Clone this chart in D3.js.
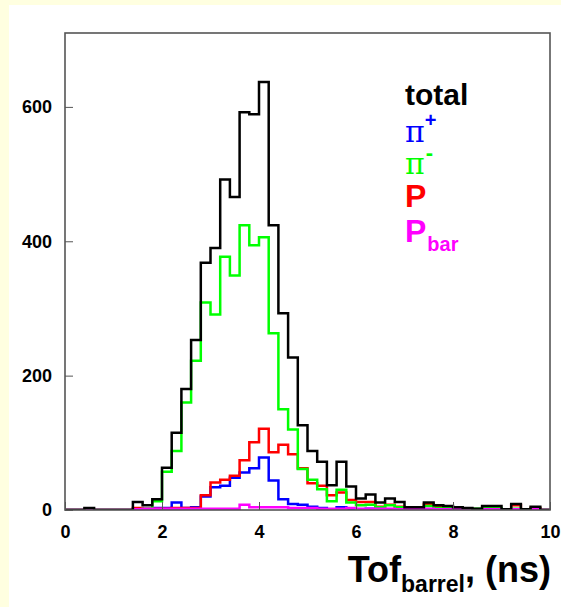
<!DOCTYPE html>
<html>
<head>
<meta charset="utf-8">
<script src="https://cdn.jsdelivr.net/npm/d3@7"></script>
<style>
  html, body { margin: 0; padding: 0; background: #ffffff; }
  svg { display: block; }
</style>
</head>
<body>
<svg id="chart" width="561" height="607"></svg>
<script>
// Time-of-flight distributions in the barrel, 0.2 ns bins from 0 to 10 ns
const binWidth = 0.2;
const binLow = d3.range(0, 50).map(i => +(i * binWidth).toFixed(1));

const total = [0,0,3,0,0,0,0,12,7,16, 63,115,180,253,368, 390,492,466,592,589,
               637,424,293,227,126, 88,72,37,72,35, 17,23,11,17,12, 4,4,11,7,6,
               4,3,2,6,6, 1,9,1,5,0];
const piPlus = [0,0,0,0,0,0,0,1,1,3, 3,11,3,4,20, 34,36,48,56,62,
                78,44,16,9,8, 5,3,1,4,2, 1,2,1,1,0, 1,0,1,1,0,
                1,0,0,1,0, 0,1,0,1,0];
const piMinus = [0,0,0,0,0,0,0,0,2,13, 57,88,160,222,309, 291,377,349,424,394,
                 406,263,150,120,61, 45,31,13,30,11, 7,8,4,7,4, 2,2,6,3,4,
                 2,1,2,3,3, 1,2,1,2,0];
const proton = [0,0,0,0,0,0,0,3,2,2, 2,3,3,3,22, 41,45,51,74,101,
                121,86,97,83,62, 40,36,22,26,15, 12,12,5,8,5, 3,2,9,5,3,
                3,2,1,3,2, 1,7,1,3,0];
const antiProton = [0,0,0,0,0,0,0,1,2,2, 2,2,2,2,2, 2,2,2,8,4,
                    4,4,4,3,3, 3,2,2,2,3, 2,2,2,2,1, 1,1,2,1,1,
                    1,1,1,1,1, 1,1,1,1,0];

const xTicks = [0, 2, 4, 6, 8, 10];
const yTicks = [0, 200, 400, 600];

const svg = d3.select("#chart");
const W = 561, H = 607;
const frame = { left: 65, right: 550, top: 33, bottom: 510 };
const font = "'Liberation Sans', Arial, sans-serif";

// page background: pale yellow margin at top and left
svg.append("rect").attr("x", 0).attr("y", 0).attr("width", W).attr("height", H).attr("fill", "#ffffe0");
svg.append("rect").attr("x", 9).attr("y", 5).attr("width", W - 9).attr("height", H - 5).attr("fill", "#ffffff");

const x = d3.scaleLinear().domain([0, 10]).range([frame.left, frame.right]);
const y = d3.scaleLinear().domain([0, 710]).range([frame.bottom, frame.top]);

svg.append("defs").append("clipPath").attr("id", "plotClip")
  .append("rect")
  .attr("x", frame.left).attr("y", frame.top)
  .attr("width", frame.right - frame.left).attr("height", frame.bottom - frame.top);

// step outline of a histogram
function stepPath(values) {
  let d = `M${x(binLow[0])},${y(0)}`;
  values.forEach((v, i) => {
    d += `V${y(v)}H${x(binLow[i] + binWidth)}`;
  });
  d += `V${y(0)}`;
  return d;
}

const series = [
  { values: piPlus, color: "#0000ff" },
  { values: proton, color: "#ff0000" },
  { values: piMinus, color: "#00ff00" },
  { values: antiProton, color: "#ff00ff" },
  { values: total, color: "#000000" }
];

const plot = svg.append("g").attr("clip-path", "url(#plotClip)");
plot.selectAll("path.hist")
  .data(series)
  .join("path")
  .attr("class", "hist")
  .attr("d", s => stepPath(s.values))
  .attr("fill", "none")
  .attr("stroke", s => s.color)
  .attr("stroke-width", 2.5)
  .attr("stroke-linejoin", "miter");

// frame
svg.append("rect")
  .attr("x", frame.left).attr("y", frame.top)
  .attr("width", frame.right - frame.left).attr("height", frame.bottom - frame.top)
  .attr("fill", "none").attr("stroke", "#555555").attr("stroke-width", 1.6);

// ticks drawn inward
const xAxis = d3.axisBottom(x).tickValues(xTicks).tickSize(-8).tickFormat(d3.format("d"));
const gx = svg.append("g").attr("transform", `translate(0,${frame.bottom})`).call(xAxis);
gx.attr("font-size", null).attr("font-family", null);
gx.select(".domain").remove();
gx.selectAll(".tick line").attr("stroke", "#555555").attr("stroke-width", 1);
gx.selectAll(".tick text")
  .attr("y", 15).attr("dy", "0.71em")
  .style("font-family", font)
  .style("font-weight", "bold").style("font-size", "18px").attr("fill", "#000");

const yAxis = d3.axisLeft(y).tickValues(yTicks).tickSize(-8).tickFormat(d3.format("d"));
const gy = svg.append("g").attr("transform", `translate(${frame.left},0)`).call(yAxis);
gy.attr("font-size", null).attr("font-family", null);
gy.select(".domain").remove();
gy.selectAll(".tick line").attr("stroke", "#555555").attr("stroke-width", 1);
gy.selectAll(".tick text")
  .attr("x", -13)
  .style("font-family", font)
  .style("font-weight", "bold").style("font-size", "18px").attr("fill", "#000");

// axis title
const title = svg.append("text")
  .attr("x", 551).attr("y", 582)
  .attr("text-anchor", "end")
  .style("font-family", font)
  .style("font-weight", "bold").attr("fill", "#000");
title.append("tspan").style("font-size", "36px").text("Tof");
title.append("tspan").style("font-size", "23px").attr("dy", 10).text("barrel");
title.append("tspan").style("font-size", "36px").attr("dy", -10).text(", (ns)");

// legend
svg.append("text").attr("x", 405).attr("y", 105)
  .style("font-family", font).style("font-weight", "bold").style("font-size", "30px")
  .attr("fill", "#000").text("total");

const lp = svg.append("text").attr("x", 405).attr("y", 142).attr("fill", "#0000ff");
lp.append("tspan").style("font-family", "'DejaVu Serif', serif").style("font-size", "30px").text("π");
lp.append("tspan").style("font-family", font).style("font-weight", "bold").style("font-size", "20px")
  .attr("dy", -15).attr("dx", 0).text("+");

const lm = svg.append("text").attr("x", 405).attr("y", 174).attr("fill", "#00ff00");
lm.append("tspan").style("font-family", "'DejaVu Serif', serif").style("font-size", "30px").text("π");
lm.append("tspan").style("font-family", font).style("font-weight", "bold").style("font-size", "22px")
  .attr("dy", -14).attr("dx", 1).text("-");

svg.append("text").attr("x", 405).attr("y", 207)
  .style("font-family", font).style("font-weight", "bold").style("font-size", "32px")
  .attr("fill", "#ff0000").text("P");

const lb = svg.append("text").attr("x", 405).attr("y", 242)
  .style("font-family", font).style("font-weight", "bold").attr("fill", "#ff00ff");
lb.append("tspan").style("font-size", "32px").text("P");
lb.append("tspan").style("font-size", "20px").attr("dy", 9).attr("dx", 1).text("bar");
</script>
</body>
</html>
